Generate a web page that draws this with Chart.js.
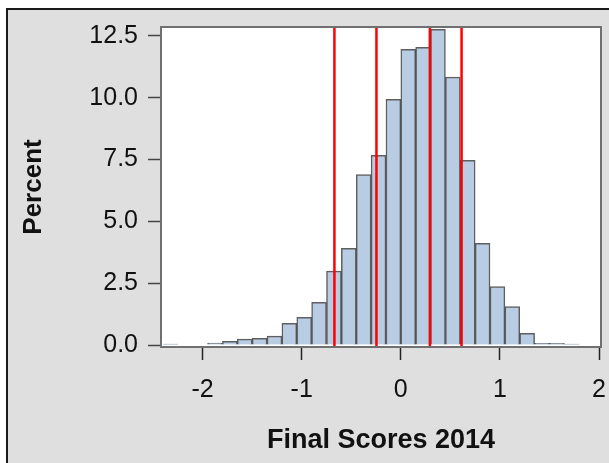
<!DOCTYPE html>
<html>
<head>
<meta charset="utf-8">
<script src="https://cdn.jsdelivr.net/npm/chart.js@4/dist/chart.umd.min.js"></script>
<style>
  html, body { margin: 0; padding: 0; background: #fff; }
  #frame {
    position: absolute; left: 6px; top: 8px; width: 603px; height: 455px;
    border-left: 2px solid #1a1a1a; border-top: 2px solid #1a1a1a;
    background: #dfdfdf;
  }
  #wrap { position: absolute; left: 0; top: 0; width: 609px; height: 463px; }
</style>
</head>
<body>
<div id="frame"></div>
<div id="wrap"><canvas id="myChart" width="609" height="463"></canvas></div>
<script>
/* globals Chart:false */
(function () {
  'use strict'

  // left edge of each histogram bin (bin width 0.15)
  var binLeft = [-2.4, -2.25, -2.1, -1.95, -1.8, -1.65, -1.5, -1.35, -1.2, -1.05, -0.9,
    -0.75, -0.6, -0.45, -0.3, -0.15, 0, 0.15, 0.3, 0.45, 0.6, 0.75, 0.9, 1.05,
    1.2, 1.35, 1.5, 1.65]
  var binWidth = 0.15
  // percent of scores in each bin
  var percent = [0.04, 0, 0, 0.08, 0.15, 0.24, 0.27, 0.36, 0.88, 1.12, 1.73,
    2.99, 3.91, 6.89, 7.67, 9.94, 11.96, 12.04, 12.77, 10.83, 7.47, 4.11, 2.36, 1.55,
    0.47, 0.07, 0.07, 0.04]
  // red reference lines
  var cutLines = [-0.67, -0.246, 0.293, 0.613]

  var xTicks = [-2, -1, 0, 1, 2]
  var yTicks = [0, 2.5, 5, 7.5, 10, 12.5]
  var yTickLabels = ['0.0', '2.5', '5.0', '7.5', '10.0', '12.5']

  var points = binLeft.map(function (x, i) {
    return { x: x + binWidth / 2, y: percent[i] }
  })

  var font = 'Liberation Sans, Arial, Helvetica, sans-serif'

  var overlay = {
    id: 'overlay',
    afterDatasetsDraw: function (chart) {
      var ctx = chart.ctx
      var a = chart.chartArea
      var xs = chart.scales.x
      ctx.save()
      ctx.strokeStyle = '#ff0000'
      ctx.lineWidth = 2.5
      cutLines.forEach(function (v) {
        var px = xs.getPixelForValue(v)
        ctx.beginPath()
        ctx.moveTo(px, a.top)
        ctx.lineTo(px, a.bottom)
        ctx.stroke()
      })
      ctx.strokeStyle = '#707070'
      ctx.lineWidth = 2
      ctx.strokeRect(a.left, a.top, a.right - a.left, a.bottom - a.top)
      ctx.restore()
    },
    beforeDraw: function (chart) {
      var ctx = chart.ctx
      var a = chart.chartArea
      ctx.save()
      ctx.fillStyle = '#ffffff'
      ctx.fillRect(a.left, a.top, a.right - a.left, a.bottom - a.top)
      ctx.restore()
    }
  }

  var ctx = document.getElementById('myChart')
  new Chart(ctx, {
    type: 'bar',
    data: {
      datasets: [{
        data: points,
        backgroundColor: '#b8cce4',
        borderColor: 'rgba(55,55,55,0.8)',
        borderWidth: 1.5,
        barPercentage: 1,
        categoryPercentage: 1,
        borderSkipped: 'bottom'
      }]
    },
    options: {
      responsive: false,
      animation: false,
      layout: { padding: { top: 27, right: 8, bottom: 0, left: 0 } },
      plugins: { legend: { display: false }, tooltip: { enabled: false } },
      scales: {
        x: {
          type: 'linear',
          offset: false,
          min: -2.42,
          max: 2.02,
          afterFit: function (s) {
            s.height = 116
            s.paddingLeft = 0
            s.paddingRight = 0
          },
          afterBuildTicks: function (s) {
            s.ticks = xTicks.map(function (v) { return { value: v } })
          },
          grid: { display: true, drawOnChartArea: false, offset: false, tickLength: 13, tickColor: '#222', tickWidth: 1.5 },
          border: { display: false },
          ticks: {
            padding: 15,
            color: '#111',
            font: { family: font, size: 25 },
            maxRotation: 0,
            callback: function (v) { return String(v) }
          },
          title: {
            display: true,
            text: 'Final Scores 2014',
            color: '#111',
            font: { family: font, size: 27, weight: 'bold' },
            padding: { top: 0, bottom: 6 }
          }
        },
        y: {
          min: -0.08,
          max: 12.86,
          afterFit: function (s) {
            s.width = 161
            s.paddingTop = 0
            s.paddingBottom = 0
          },
          afterBuildTicks: function (s) {
            s.ticks = yTicks.map(function (v) { return { value: v } })
          },
          grid: { display: true, drawOnChartArea: false, tickLength: 13, tickColor: '#444', tickWidth: 1.5 },
          border: { display: false },
          ticks: {
            padding: 10,
            color: '#111',
            font: { family: font, size: 25 },
            callback: function (v, i) { return yTickLabels[i] }
          },
          title: {
            display: true,
            text: 'Percent',
            color: '#111',
            font: { family: font, size: 26, weight: 'bold' },
            padding: { top: 18, bottom: 0 }
          }
        }
      }
    },
    plugins: [overlay]
  })
})()
</script>
</body>
</html>
